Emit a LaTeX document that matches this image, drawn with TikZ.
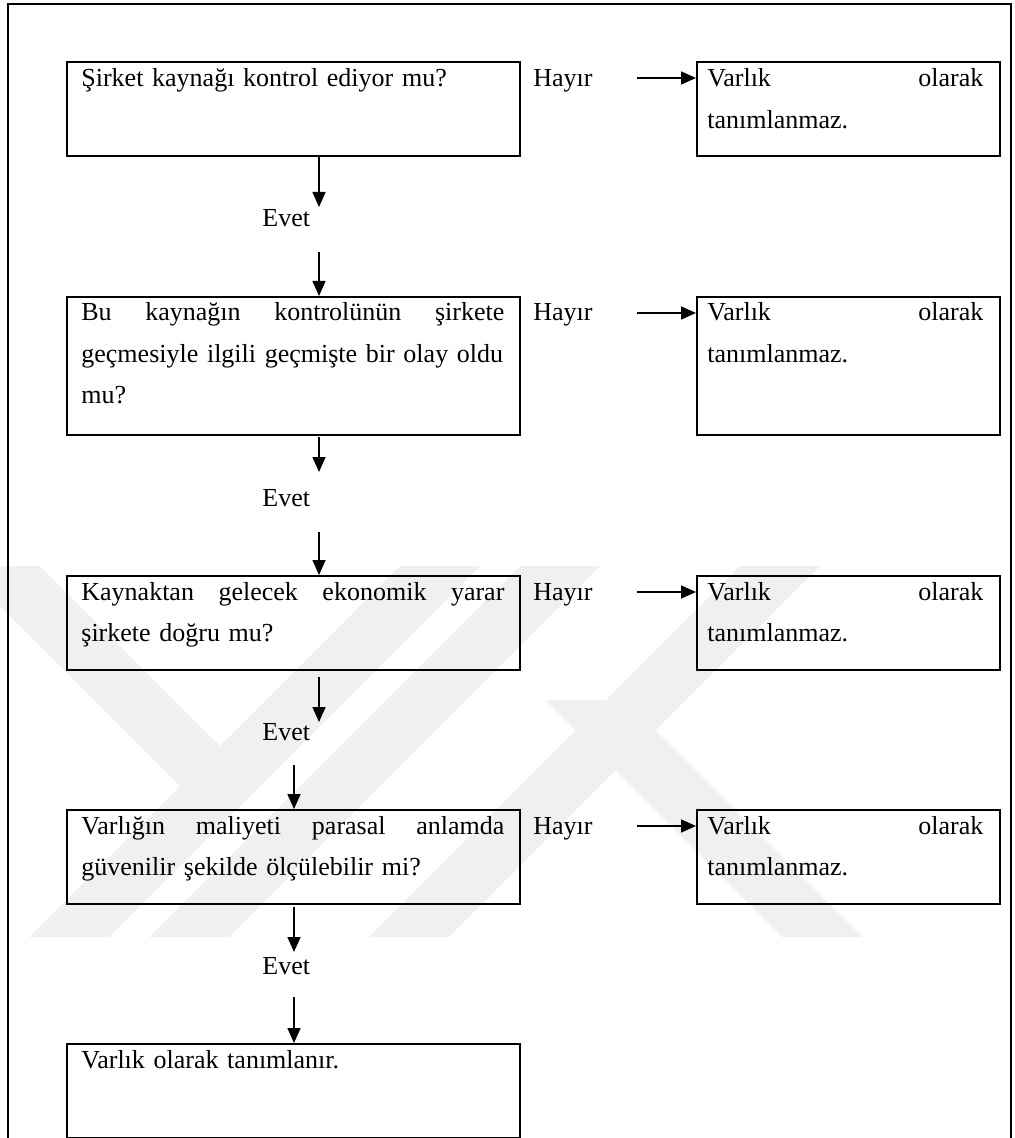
\documentclass[tikz,border=0pt]{standalone}
\usepackage{fontspec}
\setmainfont{Liberation Serif}
\usetikzlibrary{arrows.meta}
\begin{document}
\begin{tikzpicture}[x=0.5pt,y=-0.5pt,
  box/.style={draw, line width=1.1pt, inner sep=0pt, anchor=north west},
  qbox/.style={box, minimum width=226.5pt},
  rbox/.style={box, minimum width=151.5pt},
  qtext/.style={anchor=base west, inner sep=0pt, text width=211.5pt, align=left,
                font=\fontsize{13pt}{20.7pt}\selectfont},
  rtext/.style={qtext, text width=138pt},
  lbl/.style={anchor=base west, inner sep=0pt, font=\fontsize{13pt}{15pt}\selectfont},
  arr/.style={line width=0.8pt, -{Triangle[length=7.5pt,width=6.5pt]}},
  wm/.style={fill=black!6, draw=none}
]
\useasboundingbox (0,0) rectangle (1015,1138);
\begin{scope}
\clip (0,0) rectangle (1015,1138);
% watermark
\fill[wm] (-40,566) -- (40,566) -- (220,746) -- (400,566) -- (480,566) -- (220,826) -- cycle;
\fill[wm] (400,566) -- (480,566) -- (109,937) -- (29,937) -- cycle;
\fill[wm] (520,566) -- (600,566) -- (229,937) -- (149,937) -- cycle;
\fill[wm] (740,566) -- (820,566) -- (449,937) -- (369,937) -- cycle;
\fill[wm] (545,700) -- (625,700) -- (862,937) -- (782,937) -- cycle;
% outer frame
\draw[line width=1pt] (8,4) rectangle (1011,1170);
\end{scope}

% question boxes
\node[qbox, minimum height=47pt] (q1) at (66,61) {};
\node[qbox, minimum height=69pt] (q2) at (66,296) {};
\node[qbox, minimum height=47pt] (q3) at (66,575) {};
\node[qbox, minimum height=47pt] (q4) at (66,809) {};
\node[qbox, minimum height=47pt] (q5) at (66,1043) {};
% result boxes
\node[rbox, minimum height=47pt] (r1) at (696,61) {};
\node[rbox, minimum height=69pt] (r2) at (696,296) {};
\node[rbox, minimum height=47pt] (r3) at (696,575) {};
\node[rbox, minimum height=47pt] (r4) at (696,809) {};

% texts in boxes
\node[qtext] (t1) at (81,87) {Şirket kaynağı kontrol ediyor mu?};
\node[qtext] (t2) at (81,321) {Bu\hfill kaynağın\hfill kontrolünün\hfill şirkete\\\mbox{geçmesiyle ilgili geçmişte bir olay oldu}\\mu?};
\node[qtext] (t3) at (81,600) {Kaynaktan\hfill gelecek\hfill ekonomik\hfill yarar\\şirkete doğru mu?};
\node[qtext] (t4) at (81,834) {Varlığın\hfill maliyeti\hfill parasal\hfill anlamda\\güvenilir şekilde ölçülebilir mi?};
\node[qtext] (t5) at (81,1068) {Varlık olarak tanımlanır.};
\node[rtext] (u1) at (707,87) {Varlık\hfill olarak\\tanımlanmaz.};
\node[rtext] (u2) at (707,321) {Varlık\hfill olarak\\tanımlanmaz.};
\node[rtext] (u3) at (707,600) {Varlık\hfill olarak\\tanımlanmaz.};
\node[rtext] (u4) at (707,834) {Varlık\hfill olarak\\tanımlanmaz.};

% Hayir labels and arrows
\node[lbl] (h1) at (533,87) {Hayır};
\node[lbl] (h2) at (533,321) {Hayır};
\node[lbl] (h3) at (533,600) {Hayır};
\node[lbl] (h4) at (533,834) {Hayır};
\coordinate (hs1) at (637,78);
\coordinate (hs2) at (637,313);
\coordinate (hs3) at (637,592);
\coordinate (hs4) at (637,826);
\draw[arr] (hs1) -- (hs1 -| r1.west);
\draw[arr] (hs2) -- (hs2 -| r2.west);
\draw[arr] (hs3) -- (hs3 -| r3.west);
\draw[arr] (hs4) -- (hs4 -| r4.west);

% Evet labels
\node[lbl] (e1) at (262,227) {Evet};
\node[lbl] (e2) at (262,506) {Evet};
\node[lbl] (e3) at (262,740) {Evet};
\node[lbl] (e4) at (262,974) {Evet};

% vertical arrows
\coordinate (a1) at (319,207);
\coordinate (b1) at (319,252);
\coordinate (c2) at (319,437);
\coordinate (a2) at (319,472);
\coordinate (b2) at (319,532);
\coordinate (c3) at (319,677);
\coordinate (a3) at (319,722);
\coordinate (b3) at (294,765);
\coordinate (c4) at (294,907);
\coordinate (a4) at (294,952);
\coordinate (b4) at (294,997);

\draw[arr] (q1.south -| a1) -- (a1);
\draw[arr] (b1) -- (b1 |- q2.north);
\draw[arr] (c2) -- (a2);
\draw[arr] (b2) -- (b2 |- q3.north);
\draw[arr] (c3) -- (a3);
\draw[arr] (b3) -- (b3 |- q4.north);
\draw[arr] (c4) -- (a4);
\draw[arr] (b4) -- (b4 |- q5.north);
\end{tikzpicture}
\end{document}
